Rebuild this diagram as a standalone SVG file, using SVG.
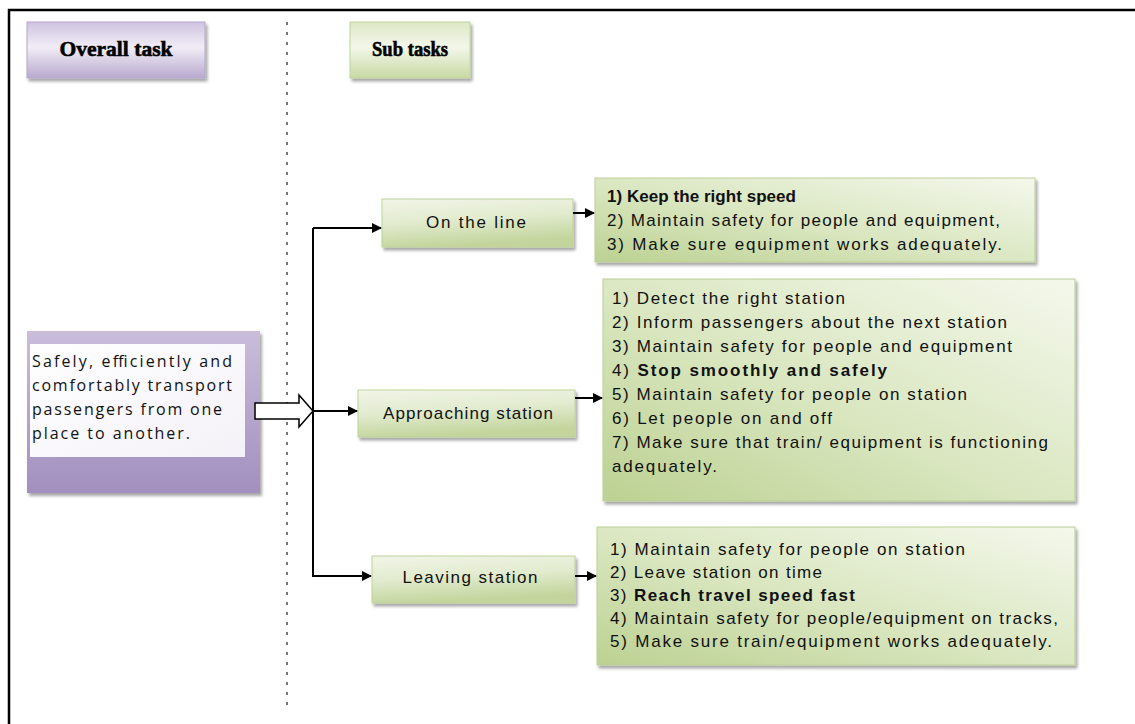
<svg xmlns="http://www.w3.org/2000/svg" width="1135" height="724" viewBox="0 0 1135 724">
<defs>
<linearGradient id="gBig" x1="0" y1="1" x2="1" y2="0">
<stop offset="0" stop-color="#bcd192"/>
<stop offset="0.45" stop-color="#d9e6bf"/>
<stop offset="1" stop-color="#f4f8ec"/>
</linearGradient>
<linearGradient id="gNode" x1="0" y1="0" x2="0.25" y2="1">
<stop offset="0" stop-color="#f1f5e7"/>
<stop offset="0.5" stop-color="#e2ebcf"/>
<stop offset="1" stop-color="#c3d59c"/>
</linearGradient>
<linearGradient id="gHeadG" x1="0" y1="0" x2="0" y2="1">
<stop offset="0" stop-color="#dde8c6"/>
<stop offset="0.45" stop-color="#f3f7ea"/>
<stop offset="1" stop-color="#c8d9a4"/>
</linearGradient>
<linearGradient id="gHeadP" x1="0" y1="0" x2="0" y2="1">
<stop offset="0" stop-color="#cfc3e0"/>
<stop offset="0.45" stop-color="#f1edf6"/>
<stop offset="1" stop-color="#b9a9cf"/>
</linearGradient>
<linearGradient id="gPurp" x1="0" y1="0" x2="0" y2="1">
<stop offset="0" stop-color="#c9bddb"/>
<stop offset="1" stop-color="#a28fbf"/>
</linearGradient>
<linearGradient id="gWhite" x1="0" y1="0" x2="1" y2="1">
<stop offset="0" stop-color="#ffffff"/>
<stop offset="1" stop-color="#f4f1f8"/>
</linearGradient>
<filter id="sh" x="-5%" y="-10%" width="115%" height="130%">
<feGaussianBlur in="SourceAlpha" stdDeviation="1.5"/>
<feOffset dx="2" dy="3" result="b"/>
<feComponentTransfer><feFuncA type="linear" slope="0.35"/></feComponentTransfer>
<feMerge><feMergeNode/><feMergeNode in="SourceGraphic"/></feMerge>
</filter>
<marker id="ah" markerWidth="10" markerHeight="10" refX="9" refY="5" orient="auto" markerUnits="userSpaceOnUse">
<path d="M0,0 L10,5 L0,10 z" fill="#000"/>
</marker>
</defs>
<style>
.t{font-family:"Liberation Sans",Arial,sans-serif;font-size:17px;fill:#111;}
.b{font-weight:bold;}
.lbl{font-family:"Liberation Sans",Arial,sans-serif;font-size:17px;fill:#111;text-anchor:middle;}
.hd{font-family:"Liberation Serif","Times New Roman",serif;font-size:22px;font-weight:bold;fill:#000;text-anchor:middle;stroke:#000;stroke-width:0.6;}
.cal{font-family:"Open Sans","Noto Sans",sans-serif;font-size:16px;fill:#111;}
.c{stroke:#000;stroke-width:2;fill:none;}
</style>
<rect x="9" y="10" width="1140" height="730" fill="#fff" stroke="#000" stroke-width="2.5"/>
<line x1="287" y1="22" x2="287" y2="708" stroke="#777" stroke-width="2" stroke-dasharray="3 7"/>

<g id="overall-header">
<rect x="27" y="22" width="178" height="56" fill="url(#gHeadP)" stroke="#b5a6ca" stroke-width="1" filter="url(#sh)"/>
<text class="hd" x="116" y="56" textLength="113" lengthAdjust="spacingAndGlyphs">Overall task</text>
</g>
<g id="sub-header">
<rect x="350" y="22" width="120" height="56" fill="url(#gHeadG)" stroke="#c2d49e" stroke-width="1" filter="url(#sh)"/>
<text class="hd" x="410" y="56" textLength="76" lengthAdjust="spacingAndGlyphs">Sub tasks</text>
</g>

<g id="overall-task">
<rect x="27" y="331" width="233" height="162" fill="url(#gPurp)" filter="url(#sh)"/>
<rect x="30" y="344" width="215" height="113" fill="url(#gWhite)"/>
<text class="cal" x="32" y="367" textLength="200" lengthAdjust="spacing">Safely, efficiently and</text>
<text class="cal" x="32" y="391" textLength="200" lengthAdjust="spacing">comfortably transport</text>
<text class="cal" x="32" y="415" textLength="190" lengthAdjust="spacing">passengers from one</text>
<text class="cal" x="32" y="439" textLength="158" lengthAdjust="spacing">place to another.</text>
</g>

<g id="on-the-line">
<rect x="382" y="199" width="191" height="48" fill="url(#gNode)" stroke="#c0d19a" stroke-width="1" filter="url(#sh)"/>
<text class="lbl" x="476" y="228" textLength="100" lengthAdjust="spacing">On the line</text>
</g>
<g id="approaching-station">
<rect x="358" y="390" width="217" height="47" fill="url(#gNode)" stroke="#c0d19a" stroke-width="1" filter="url(#sh)"/>
<text class="lbl" x="468" y="419" textLength="170" lengthAdjust="spacing">Approaching station</text>
</g>
<g id="leaving-station">
<rect x="372" y="556" width="203" height="47" fill="url(#gNode)" stroke="#c0d19a" stroke-width="1" filter="url(#sh)"/>
<text class="lbl" x="470" y="583" textLength="135" lengthAdjust="spacing">Leaving station</text>
</g>

<g id="on-the-line-tasks">
<rect x="595" y="178" width="440" height="84" fill="url(#gBig)" stroke="#bccf95" stroke-width="1" filter="url(#sh)"/>
<text class="t b" x="607" y="202" textLength="189" lengthAdjust="spacing">1) Keep the right speed</text>
<text class="t" x="607" y="226" textLength="393" lengthAdjust="spacing">2) Maintain safety for people and equipment,</text>
<text class="t" x="607" y="250" textLength="395" lengthAdjust="spacing">3) Make sure equipment works adequately.</text>
</g>
<g id="approaching-tasks">
<rect x="603" y="279" width="472" height="222" fill="url(#gBig)" stroke="#bccf95" stroke-width="1" filter="url(#sh)"/>
<text class="t" x="612" y="304" textLength="233" lengthAdjust="spacing">1) Detect the right station</text>
<text class="t" x="612" y="328" textLength="395" lengthAdjust="spacing">2) Inform passengers about the next station</text>
<text class="t" x="612" y="352" textLength="400" lengthAdjust="spacing">3) Maintain safety for people and equipment</text>
<text class="t" x="612" y="376" textLength="275" lengthAdjust="spacing">4) <tspan class="b">Stop smoothly and safely</tspan></text>
<text class="t" x="612" y="400" textLength="355" lengthAdjust="spacing">5) Maintain safety for people on station</text>
<text class="t" x="612" y="424" textLength="220" lengthAdjust="spacing">6) Let people on and off</text>
<text class="t" x="612" y="448" textLength="436" lengthAdjust="spacing">7) Make sure that train/ equipment is functioning</text>
<text class="t" x="612" y="472" textLength="105" lengthAdjust="spacing">adequately.</text>
</g>
<g id="leaving-tasks">
<rect x="597" y="527" width="478" height="138" fill="url(#gBig)" stroke="#bccf95" stroke-width="1" filter="url(#sh)"/>
<text class="t" x="610" y="555" textLength="355" lengthAdjust="spacing">1) Maintain safety for people on station</text>
<text class="t" x="610" y="578" textLength="212" lengthAdjust="spacing">2) Leave station on time</text>
<text class="t" x="610" y="601" textLength="245" lengthAdjust="spacing">3) <tspan class="b">Reach travel speed fast</tspan></text>
<text class="t" x="610" y="624" textLength="448" lengthAdjust="spacing">4) Maintain safety for people/equipment on tracks,</text>
<text class="t" x="610" y="647" textLength="442" lengthAdjust="spacing">5) Make sure train/equipment works adequately.</text>
</g>

<g id="connectors">
<polygon points="255,403 299,403 299,395 313,411 299,427 299,419 255,419" fill="#fff" stroke="#000" stroke-width="1.5"/>
<path class="c" d="M313,411 L357,411" marker-end="url(#ah)"/>
<path class="c" d="M313,228 L313,576 L371,576" marker-end="url(#ah)"/>
<path class="c" d="M313,228 L381,228" marker-end="url(#ah)"/>
<path class="c" d="M573,213 L594,213" marker-end="url(#ah)"/>
<path class="c" d="M575,398 L602,398" marker-end="url(#ah)"/>
<path class="c" d="M575,576 L596,576" marker-end="url(#ah)"/>
</g>
</svg>
